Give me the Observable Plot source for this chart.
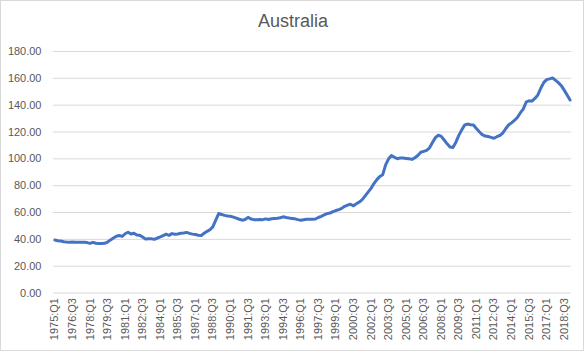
<!DOCTYPE html>
<html>
<head>
<meta charset="utf-8">
<script src="https://cdn.jsdelivr.net/npm/d3@7"></script>
<script src="https://cdn.jsdelivr.net/npm/@observablehq/plot@0.6"></script>
<style>
  html, body { margin: 0; padding: 0; background: #fff; }
  #chart { position: relative; width: 584px; height: 351px; box-sizing: border-box; border: 1px solid #d9d9d9; overflow: hidden; font-family: "Liberation Sans", Arial, sans-serif; }
  #title { position: absolute; left: 0; top: 10px; width: 584px; text-align: center; font-size: 18px; color: #595959; }
  #plot { position: absolute; left: -1px; top: 37px; }
</style>
</head>
<body>
<div id="chart">
  <div id="title">Australia</div>
  <div id="plot"></div>
</div>
<script>
// Quarterly categories, 1975:Q1 .. 2019:Q1
const startYear = 1975;
const quarters = [];
for (let k = 0; k < 177; k++) {
  quarters.push((startYear + Math.floor(k / 4)) + ":Q" + ((k % 4) + 1));
}

// Index values
const values = [
  39.5, 39.0, 38.8, 38.2, 38.0, 37.9, 38.0, 37.9,
  37.9, 37.8, 37.9, 37.6, 37.0, 37.8, 37.1, 37.0,
  37.0, 37.1, 38.0, 39.6, 41.0, 42.3, 42.9, 42.2,
  44.2, 45.3, 44.0, 44.6, 43.2, 43.0, 41.8, 40.2,
  40.5, 40.4, 40.0, 41.0, 41.8, 42.8, 43.9, 43.0,
  44.3, 43.8, 44.0, 44.5, 44.8, 45.2, 44.5, 43.9,
  43.6, 43.1, 42.9, 44.5, 46.0, 47.2, 49.5, 54.5,
  59.3, 58.5, 57.9, 57.4, 57.2, 56.6, 55.8, 55.0,
  54.3, 54.8, 56.4, 55.2, 54.7, 54.7, 54.8, 54.7,
  55.3, 54.8, 55.4, 55.6, 55.7, 56.1, 56.8, 56.3,
  55.9, 55.6, 55.3, 54.7, 54.2, 54.6, 55.0, 55.0,
  55.0, 55.2, 56.3, 57.2, 58.2, 59.2, 59.6, 60.6,
  61.5, 62.2, 63.1, 64.6, 65.5, 66.2, 65.0, 66.5,
  67.8, 69.6, 72.4, 75.2, 78.0, 81.6, 84.5, 86.8,
  88.2, 95.5, 100.0, 102.4, 101.2, 100.1, 100.7, 100.6,
  100.3, 100.0, 99.6, 100.8, 102.5, 104.9, 105.6, 106.3,
  108.2, 112.2, 115.8, 117.6, 116.7, 114.0, 111.2, 108.8,
  108.5, 112.4, 117.5, 121.6, 125.2, 125.9, 125.4, 125.2,
  122.6, 120.2, 118.0, 117.0, 116.6, 116.0, 115.3, 116.5,
  117.4, 119.2, 122.4, 125.2, 126.8, 128.6, 130.8, 134.2,
  137.0, 142.2, 143.3, 143.0, 145.0, 147.6, 152.6, 156.8,
  159.0, 159.6, 160.3, 158.6, 156.8, 154.5, 151.2, 147.5,
  143.8
];

const yTicks = [0, 20, 40, 60, 80, 100, 120, 140, 160, 180];
// x tick labels every 6 quarters: 1975:Q1, 1976:Q3, ... 2018:Q3
const xTickLabels = [
  "1975:Q1","1976:Q3","1978:Q1","1979:Q3","1981:Q1","1982:Q3","1984:Q1","1985:Q3",
  "1987:Q1","1988:Q3","1990:Q1","1991:Q3","1993:Q1","1994:Q3","1996:Q1","1997:Q3",
  "1999:Q1","2000:Q3","2002:Q1","2003:Q3","2005:Q1","2006:Q3","2008:Q1","2009:Q3",
  "2011:Q1","2012:Q3","2014:Q1","2015:Q3","2017:Q1","2018:Q3"
];

const data = values.map((v, i) => ({ q: quarters[i], v }));

const chart = Plot.plot({
  width: 584,
  height: 313,
  marginLeft: 53,
  marginRight: 12,
  marginTop: 13,
  marginBottom: 58,
  style: { fontFamily: "Liberation Sans, Arial, sans-serif", background: "transparent" },
  x: { type: "point", domain: quarters, padding: 0.5 },
  y: { domain: [0, 180] },
  marks: [
    Plot.ruleY(yTicks, { stroke: "#d9d9d9", strokeWidth: 1 }),
    Plot.axisY(yTicks, {
      tickSize: 0, tickPadding: 12, label: null,
      tickFormat: d => d.toFixed(2), fill: "#595959", fontSize: 11
    }),
    Plot.axisX(xTickLabels, {
      tickSize: 0, tickPadding: 5, tickRotate: -90, label: null,
      fill: "#595959", fontSize: 11
    }),
    Plot.line(data, {
      x: "q", y: "v", stroke: "#4472C4", strokeWidth: 3,
      strokeLinejoin: "round", strokeLinecap: "round", curve: "linear"
    })
  ]
});
document.getElementById("plot").appendChild(chart);
</script>
</body>
</html>
